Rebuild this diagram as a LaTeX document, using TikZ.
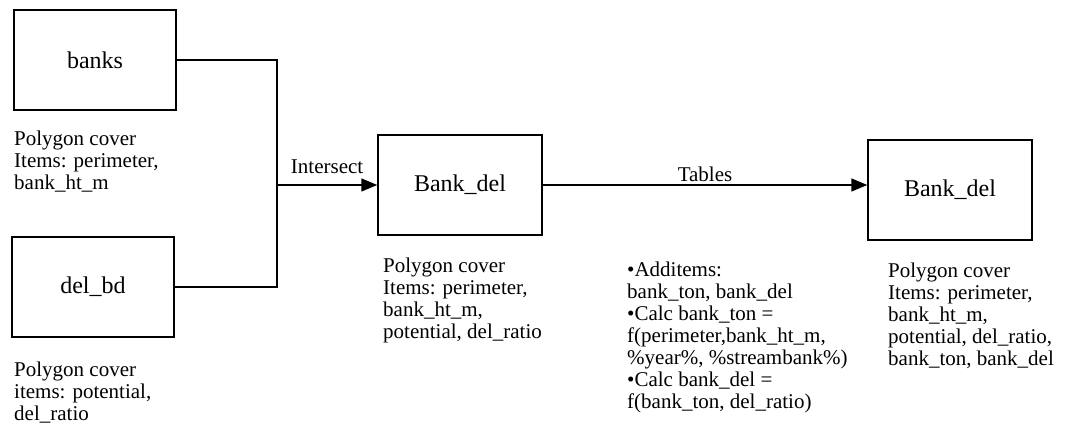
\documentclass[tikz,border=0pt]{standalone}
\usepackage{fontspec}
\setmainfont{Liberation Serif}
\usetikzlibrary{arrows.meta}
\tikzset{
layer/.style={draw, line width=1.5pt, minimum width=162pt, minimum height=100pt,
  font=\rmfamily\fontsize{24}{26}\selectfont},
info/.style={anchor=base west, align=left, inner sep=0pt,
  font=\rmfamily\fontsize{21}{22}\selectfont},
tag/.style={inner sep=0pt, font=\rmfamily\fontsize{21}{22}\selectfont},
flow/.style={line width=1.5pt},
flowarrow/.style={line width=1.5pt, -{Triangle[length=16pt,width=13pt]}}
}

\begin{document}
\begin{tikzpicture}[x=1pt,y=-1pt]
\useasboundingbox (0,0) rectangle (1072,438);

\node[layer] (banks) at (95,60) {banks};
\node[layer] (delbd) at (93,287) {del\_bd};
\node[layer, minimum width=164pt] (bankdel) at (460,185) {Bank\_del};
\node[layer, minimum width=164pt] (bankout) at (950,190) {Bank\_del};

% notes sit on the baseline of their last line
\node[info] (banksinfo) at (14,190) {Polygon cover\\Items: perimeter,\\bank\_ht\_m};
\node[info] (delbdinfo) at (14,421) {Polygon cover\\items: potential,\\del\_ratio};
\node[info] (bankdelinfo) at (383,339) {Polygon cover\\Items: perimeter,\\bank\_ht\_m,\\potential, del\_ratio};
\node[info] (tablesinfo) at (627,409) {\textbullet Additems:\\bank\_ton, bank\_del\\\textbullet Calc bank\_ton =\\f(perimeter,bank\_ht\_m,\\\%year\%, \%streambank\%)\\\textbullet Calc bank\_del =\\f(bank\_ton, del\_ratio)};
\node[info] (bankoutinfo) at (888,366) {Polygon cover\\Items: perimeter,\\bank\_ht\_m,\\potential, del\_ratio,\\bank\_ton, bank\_del};

\coordinate (join) at (277,185);
\draw[flow] (banks.east) -| (join);
\draw[flow] (delbd.east) -| (join);
\draw[flowarrow] (join) -- (bankdel.west) node[tag, midway, above=11pt] {Intersect};
\draw[flowarrow] (bankdel.east) -- (bankdel.east -| bankout.west) node[tag, midway, above=3pt] {Tables};

\end{tikzpicture}
\end{document}
